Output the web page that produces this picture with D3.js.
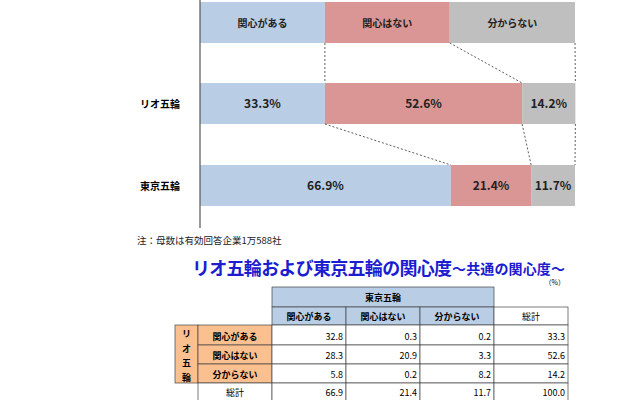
<!DOCTYPE html><html><head><meta charset="utf-8"><script src="https://cdn.jsdelivr.net/npm/d3@7"></script>
<style>body{margin:0;background:#fff}svg{display:block}text{font-family:"Noto Sans CJK JP",sans-serif}</style></head><body>
<svg width="640" height="400"></svg>
<script>
const cats=["関心がある","関心はない","分からない"];
const rows=["リオ五輪","東京五輪"];
const rio=[33.3,52.6,14.2];
const tokyo=[66.9,21.4,11.7];
const header=[33.3,33.3,33.4];
const colors=["#b9cde5","#d99694","#bfbfbf"];
const tableRows=["関心がある","関心はない","分からない"];
const tableVals=[[32.8,0.3,0.2,33.3],[28.3,20.9,3.3,52.6],[5.8,0.2,8.2,14.2]];
const totals=[66.9,21.4,11.7,100.0];

const svg=d3.select("svg");
const x=d3.scaleLinear().domain([0,100]).range([200,575]);
const bh=41, ys={h:2,"リオ五輪":83,"東京五輪":165};
function stack(v){let c=0;return v.map(d=>{const s=c;c+=d;return [s,c];});}
const sets=[{k:"h",v:header,lab:cats},{k:"リオ五輪",v:rio},{k:"東京五輪",v:tokyo}];
sets.forEach(s=>{
  const st=stack(s.v);
  st.forEach((p,i)=>{
    svg.append("rect").attr("x",x(p[0])).attr("y",ys[s.k]).attr("width",x(p[1])-x(p[0])).attr("height",bh).attr("fill",colors[i]);
    svg.append("text").attr("x",(x(p[0])+x(p[1]))/2).attr("y",ys[s.k]+bh/2+4).attr("text-anchor","middle")
      .attr("font-size",s.lab?10:12).attr("font-weight","bold").attr("fill","#222").text(s.lab?s.lab[i]:s.v[i].toFixed(1)+"%");
  });
  if(s.k!=="h") svg.append("text").attr("x",160).attr("y",ys[s.k]+bh/2+4).attr("text-anchor","middle").attr("font-size",10).attr("font-weight","bold").text(s.k);
});
function conn(a,b,ya,yb){const sa=stack(a),sb=stack(b);[0,1,2].forEach(i=>{
  svg.append("line").attr("x1",x(sa[i][1])).attr("x2",x(sb[i][1])).attr("y1",ya).attr("y2",yb).attr("stroke","#333").attr("stroke-dasharray","2,2").attr("stroke-width",0.8);});}
conn(header,rio,43,83);conn(rio,tokyo,124,165);
svg.append("line").attr("x1",200).attr("x2",200).attr("y1",0).attr("y2",228).attr("stroke","#555").attr("stroke-width",1.2);

svg.append("text").attr("x",137).attr("y",244).attr("font-size",9.5).attr("fill","#222").text("注：母数は有効回答企業1万588社");
svg.append("text").attr("x",192).attr("y",275).attr("font-size",18).attr("font-weight","bold").attr("fill","#1c1cd0").attr("textLength",260).text("リオ五輪および東京五輪の関心度");
svg.append("text").attr("x",452).attr("y",274).attr("font-size",14).attr("font-weight","bold").attr("fill","#1c1cd0").attr("textLength",113).text("～共通の関心度～");
svg.append("text").attr("x",565).attr("y",285).attr("font-size",7).attr("text-anchor","end").text("（%）");

const cx=[175,198,272,346,420,494,568];
const ry=[287,307,325,345,364,383,402];
const g=svg.append("g").attr("font-size",9).attr("font-weight","bold");
function cell(x0,x1,y0,y1,fill){g.append("rect").attr("x",x0).attr("y",y0).attr("width",x1-x0).attr("height",y1-y0).attr("fill",fill).attr("stroke","#444").attr("stroke-width",0.7);}
cell(cx[2],cx[5],ry[0],ry[1],"#b9cde5");
cats.forEach((c,i)=>{cell(cx[2+i],cx[3+i],ry[1],ry[2],"#b9cde5");g.append("text").attr("x",(cx[2+i]+cx[3+i])/2).attr("y",ry[2]-5).attr("text-anchor","middle").text(c);});
g.append("text").attr("x",(cx[2]+cx[5])/2).attr("y",ry[1]-6).attr("text-anchor","middle").text("東京五輪");
cell(cx[5],cx[6],ry[1],ry[2],"#fff");
g.append("text").attr("x",(cx[5]+cx[6])/2).attr("y",ry[2]-5).attr("text-anchor","middle").attr("font-weight","normal").text("総計");
cell(cx[0],cx[1],ry[2],ry[5],"#fac090");
"リオ五輪".split("").forEach((ch,i)=>g.append("text").attr("x",(cx[0]+cx[1])/2).attr("y",ry[2]+12+i*14.5).attr("text-anchor","middle").text(ch));
tableRows.forEach((r,i)=>{
  cell(cx[1],cx[2],ry[2+i],ry[3+i],"#fac090");
  g.append("text").attr("x",(cx[1]+cx[2])/2).attr("y",ry[3+i]-5).attr("text-anchor","middle").text(r);
  tableVals[i].forEach((v,j)=>{cell(cx[2+j],cx[3+j],ry[2+i],ry[3+i],"#fff");
    g.append("text").attr("x",cx[3+j]-3).attr("y",ry[3+i]-5).attr("text-anchor","end").attr("font-weight","normal").text(v.toFixed(1));});
});
cell(cx[1],cx[2],ry[5],ry[6],"#fff");
g.append("text").attr("x",(cx[1]+cx[2])/2).attr("y",ry[6]-6).attr("text-anchor","middle").attr("font-weight","normal").text("総計");
totals.forEach((v,j)=>{cell(cx[2+j],cx[3+j],ry[5],ry[6],"#fff");
  g.append("text").attr("x",cx[3+j]-3).attr("y",ry[6]-6).attr("text-anchor","end").attr("font-weight","normal").text(v.toFixed(1));});
</script></body></html>
